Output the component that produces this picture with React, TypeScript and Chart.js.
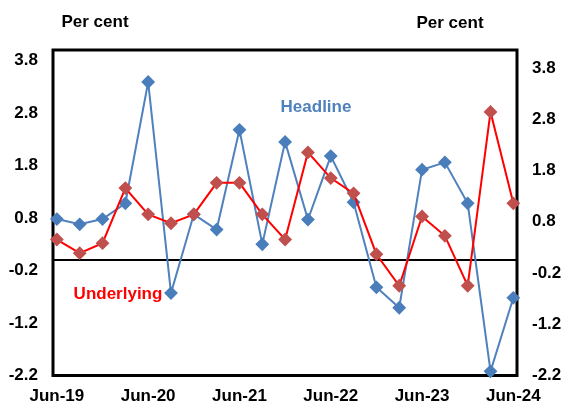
import React, { useEffect, useRef } from "react";
import { Chart, registerables } from "chart.js";

Chart.register(...registerables);

const quarters = [
  "Jun-19", "Sep-19", "Dec-19", "Mar-20", "Jun-20", "Sep-20", "Dec-20",
  "Mar-21", "Jun-21", "Sep-21", "Dec-21", "Mar-22", "Jun-22", "Sep-22",
  "Dec-22", "Mar-23", "Jun-23", "Sep-23", "Dec-23", "Mar-24", "Jun-24",
];
const headline = [
  0.78, 0.68, 0.78, 1.08, 3.39, -0.63, 0.87, 0.58, 2.48, 0.3, 2.25, 0.77,
  1.98, 1.1, -0.52, -0.91, 1.72, 1.86, 1.08, -2.12, -0.72,
];
const underlying = [
  0.39, 0.13, 0.32, 1.37, 0.87, 0.7, 0.87, 1.47, 1.47, 0.87, 0.39, 2.05,
  1.56, 1.27, 0.11, -0.49, 0.83, 0.46, -0.49, 2.82, 1.08,
];
const yTicks = [-2.2, -1.2, -0.2, 0.8, 1.8, 2.8, 3.8];
const xTickIdx = [0, 4, 8, 12, 16, 20];

const FONT = "'Liberation Sans', Arial, sans-serif";

const annotations = {
  id: "annotations",
  beforeDatasetsDraw(chart: any) {
    const { ctx, chartArea } = chart;
    const y0 = chart.scales.y.getPixelForValue(0);
    ctx.save();
    ctx.strokeStyle = "#000";
    ctx.lineWidth = 2;
    ctx.beginPath();
    ctx.moveTo(chartArea.left, y0);
    ctx.lineTo(chartArea.right, y0);
    ctx.stroke();
    ctx.lineWidth = 3;
    ctx.strokeRect(
      chartArea.left,
      chartArea.top,
      chartArea.right - chartArea.left,
      chartArea.bottom - chartArea.top
    );
    ctx.restore();
  },
  afterDraw(chart: any) {
    const { ctx } = chart;
    ctx.save();
    ctx.textAlign = "center";
    ctx.textBaseline = "middle";
    ctx.font = `bold 17px ${FONT}`;
    ctx.fillStyle = "#000";
    ctx.fillText("Per cent", 95, 22);
    ctx.fillText("Per cent", 450, 23);
    ctx.fillStyle = "#4F81BD";
    ctx.fillText("Headline", 316, 107);
    ctx.fillStyle = "#FF0000";
    ctx.fillText("Underlying", 118, 294);
    ctx.restore();
  },
};

export default function App() {
  const ref = useRef<HTMLCanvasElement>(null);
  useEffect(() => {
    if (!ref.current) return;
    const tickFont = { family: FONT, size: 17, weight: "bold" as const };
    const chart = new Chart(ref.current, {
      type: "line",
      data: {
        datasets: [
          {
            label: "Underlying",
            data: underlying.map((v, i) => ({ x: i, y: v })),
            borderColor: "#FF0000",
            backgroundColor: "#C0504D",
            pointBackgroundColor: "#C0504D",
            pointBorderColor: "#C0504D",
            borderWidth: 2,
            pointStyle: "rectRot",
            pointRadius: 5.5,
            clip: false,
            yAxisID: "y",
          },
          {
            label: "Headline",
            data: headline.map((v, i) => ({ x: i, y: v })),
            borderColor: "#4F81BD",
            backgroundColor: "#4A7EBB",
            pointBackgroundColor: "#4A7EBB",
            pointBorderColor: "#4A7EBB",
            borderWidth: 2,
            pointStyle: "rectRot",
            pointRadius: 5.5,
            clip: false,
            yAxisID: "y",
          },
        ],
      },
      options: {
        animation: false,
        responsive: false,
        layout: { padding: { top: 50, left: 0, right: 0, bottom: 0 } },
        plugins: {
          legend: { display: false },
          tooltip: { enabled: false },
        },
        scales: {
          x: {
            type: "linear",
            min: -0.17,
            max: 20.16,
            afterBuildTicks: (s: any) => {
              s.ticks = xTickIdx.map((v) => ({ value: v }));
            },
            afterFit: (s: any) => {
              s.height = 27.5;
            },
            grid: { display: false, drawTicks: false },
            border: { display: false },
            ticks: {
              color: "#000",
              font: tickFont,
              padding: 11,
              maxRotation: 0,
              autoSkip: false,
              callback: (v: any) => quarters[Number(v)] ?? "",
            },
          },
          y: {
            position: "left",
            min: -2.2,
            max: 4.0,
            afterBuildTicks: (s: any) => {
              s.ticks = yTicks.map((v) => ({ value: v }));
            },
            afterFit: (s: any) => {
              s.width = 53;
            },
            grid: { display: false, drawTicks: false },
            border: { display: false },
            ticks: {
              color: "#000",
              font: tickFont,
              padding: 15,
              callback: (v: any) => Number(v).toFixed(1),
            },
          },
          y2: {
            position: "right",
            min: -2.2,
            max: 4.15,
            afterBuildTicks: (s: any) => {
              s.ticks = yTicks.map((v) => ({ value: v }));
            },
            afterFit: (s: any) => {
              s.width = 48;
            },
            grid: { display: false, drawTicks: false },
            border: { display: false },
            ticks: {
              color: "#000",
              font: tickFont,
              padding: 15,
              callback: (v: any) => Number(v).toFixed(1),
            },
          },
        },
      },
      plugins: [annotations],
    });
    return () => chart.destroy();
  }, []);
  return (
    <div style={{ position: "absolute", left: 0, top: 0, width: 565, height: 403, background: "#fff" }}>
      <canvas ref={ref} width={565} height={403} style={{ display: "block" }} />
    </div>
  );
}
